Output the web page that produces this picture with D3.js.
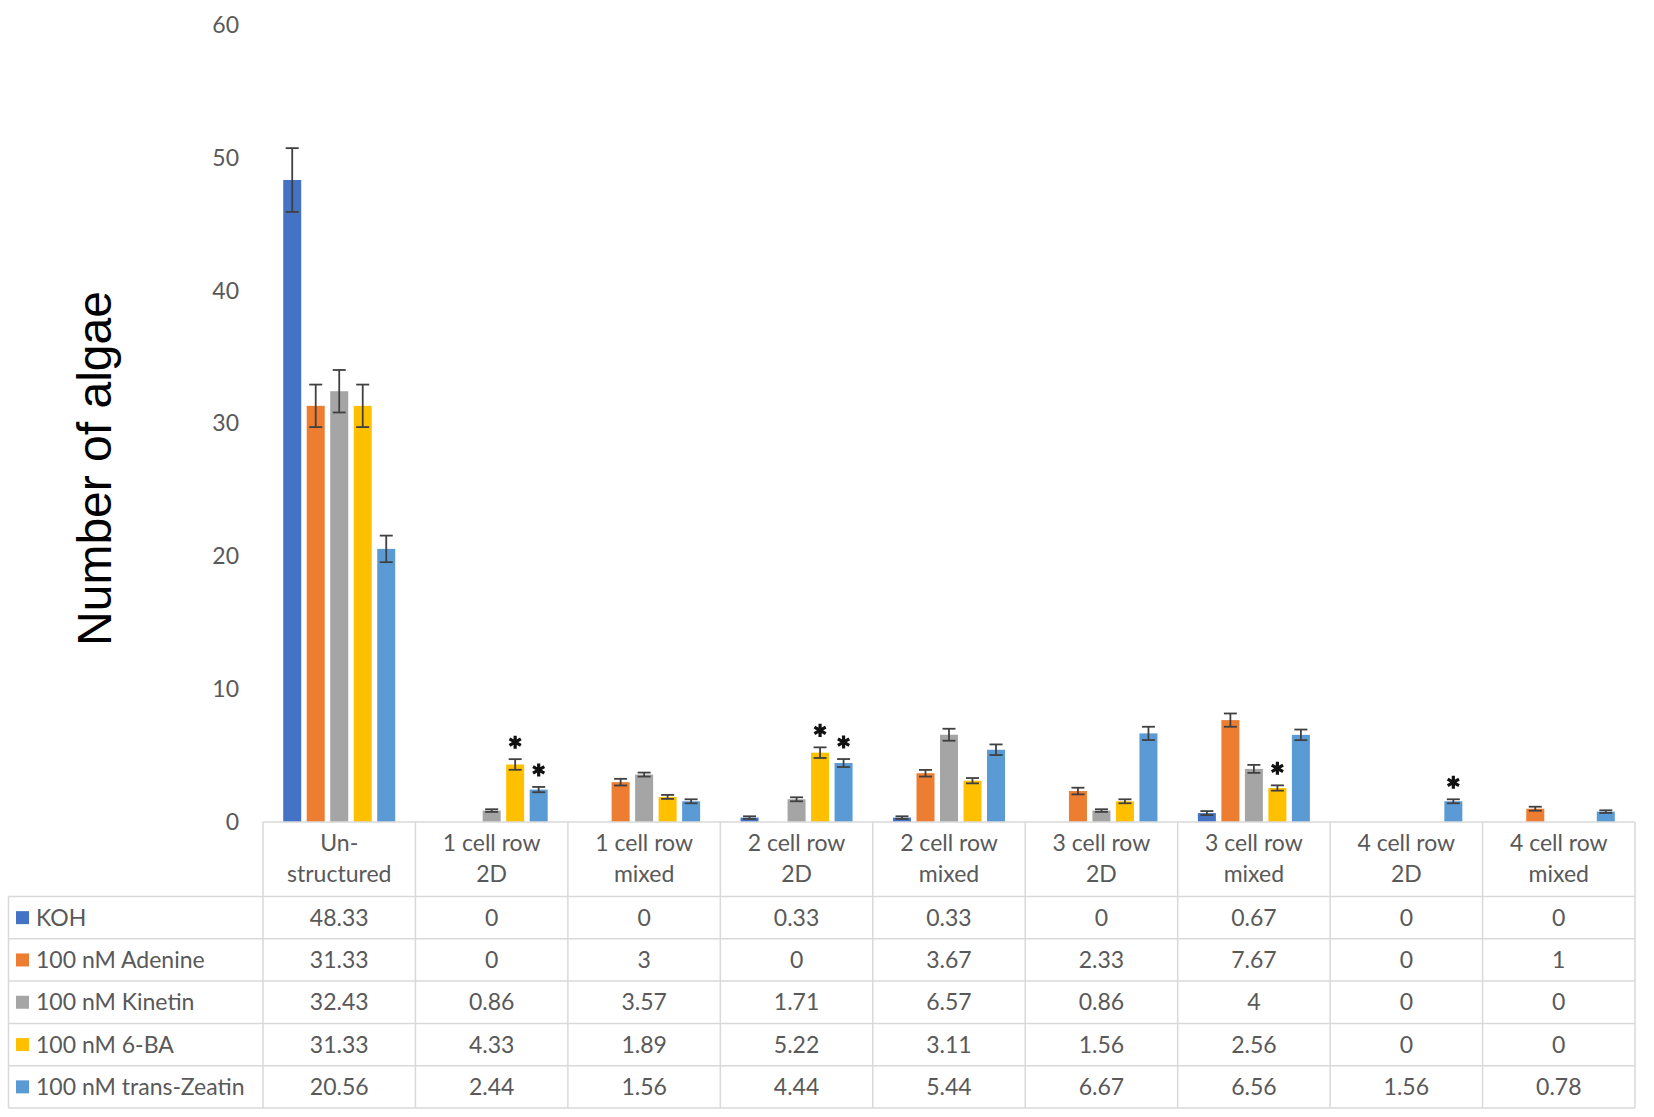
<!DOCTYPE html>
<html>
<head>
  <meta charset="utf-8">
  <style>
    body { margin: 0; background: #fff; }
    svg text { font-family: Lato, "Open Sans", sans-serif; }
    .grid { stroke: #d9d9d9; stroke-width: 1.5; fill: none; }
    .cell-text { fill: #595959; font-size: 23px; }
  </style>
</head>
<body>
  <script src="https://d3js.org/d3.v7.min.js"></script>
  <script>
    // data
    const categories = [
      ['Un-', 'structured'], ['1 cell row', '2D'], ['1 cell row', 'mixed'],
      ['2 cell row', '2D'], ['2 cell row', 'mixed'], ['3 cell row', '2D'],
      ['3 cell row', 'mixed'], ['4 cell row', '2D'], ['4 cell row', 'mixed']
    ];
    const seriesNames = ['KOH', '100 nM Adenine', '100 nM Kinetin', '100 nM 6-BA', '100 nM trans-Zeatin'];
    const seriesColors = ['#4472c4', '#ed7d31', '#a5a5a5', '#ffc000', '#5b9bd5'];

    const kohValues     = [48.33, 0, 0, 0.33, 0.33, 0, 0.67, 0, 0];
    const adenineValues = [31.33, 0, 3, 0, 3.67, 2.33, 7.67, 0, 1];
    const kinetinValues = [32.43, 0.86, 3.57, 1.71, 6.57, 0.86, 4, 0, 0];
    const baValues      = [31.33, 4.33, 1.89, 5.22, 3.11, 1.56, 2.56, 0, 0];
    const zeatinValues  = [20.56, 2.44, 1.56, 4.44, 5.44, 6.67, 6.56, 1.56, 0.78];

    // error bars (estimated)
    const kohErr     = [2.4, 0, 0, 0.1, 0.1, 0, 0.15, 0, 0];
    const adenineErr = [1.6, 0, 0.25, 0, 0.25, 0.25, 0.5, 0, 0.15];
    const kinetinErr = [1.6, 0.1, 0.15, 0.15, 0.45, 0.1, 0.3, 0, 0];
    const baErr      = [1.6, 0.4, 0.15, 0.4, 0.2, 0.15, 0.2, 0, 0];
    const zeatinErr  = [1.0, 0.2, 0.15, 0.3, 0.4, 0.5, 0.4, 0.15, 0.1];

    // significance stars: [category, series]
    const stars = [[1, 3], [1, 4], [3, 3], [3, 4], [6, 3], [7, 4]];

    const yTicks = [0, 10, 20, 30, 40, 50, 60];

    const values = [kohValues, adenineValues, kinetinValues, baValues, zeatinValues];
    const errors = [kohErr, adenineErr, kinetinErr, baErr, zeatinErr];

    const width = 1654, height = 1117;
    const plot = { left: 263, right: 1635, top: 25, bottom: 822 };
    const headerH = 74.5, rowH = 42.3, legendLeft = 8.5;

    const svg = d3.select('body').append('svg')
      .attr('width', width)
      .attr('height', height);

    const x0 = d3.scaleBand()
      .domain(d3.range(categories.length))
      .range([plot.left, plot.right]);

    const x1 = d3.scaleBand()
      .domain(d3.range(seriesNames.length))
      .range([0, x0.bandwidth()])
      .paddingInner(0.234)
      .paddingOuter(0.86);

    const y = d3.scaleLinear()
      .domain([0, 60])
      .range([plot.bottom, plot.top]);

    // y axis, labels only
    const yAxis = svg.append('g')
      .attr('transform', `translate(${plot.left},0)`)
      .call(d3.axisLeft(y).tickValues(yTicks).tickSize(0).tickPadding(24));
    yAxis.select('.domain').remove();
    yAxis.selectAll('text')
      .attr('fill', '#595959')
      .style('font-size', '23px')
      .style('font-family', 'Lato, sans-serif');

    svg.append('text')
      .attr('transform', `translate(111,${(287 + 650) / 2}) rotate(-90)`)
      .attr('text-anchor', 'middle')
      .style('font-family', '"Liberation Sans", Arial, sans-serif')
      .style('font-size', '48px')
      .attr('fill', '#000')
      .text('Number of algae');

    // bars
    const bars = [];
    values.forEach((vals, s) => vals.forEach((v, c) => bars.push({ c, s, v, e: errors[s][c] })));

    svg.append('g').selectAll('rect')
      .data(bars)
      .join('rect')
      .attr('x', d => x0(d.c) + x1(d.s))
      .attr('y', d => y(d.v))
      .attr('width', x1.bandwidth())
      .attr('height', d => y(0) - y(d.v))
      .attr('fill', d => seriesColors[d.s]);

    // error bars
    const eb = svg.append('g').attr('stroke', '#404040').attr('stroke-width', 1.8);
    bars.filter(d => d.v > 0).forEach(d => {
      const cx = x0(d.c) + x1(d.s) + x1.bandwidth() / 2;
      const top = y(d.v + d.e), bot = y(Math.max(0, d.v - d.e));
      eb.append('line').attr('x1', cx).attr('x2', cx).attr('y1', top).attr('y2', bot);
      eb.append('line').attr('x1', cx - 6.5).attr('x2', cx + 6.5).attr('y1', top).attr('y2', top);
      eb.append('line').attr('x1', cx - 6.5).attr('x2', cx + 6.5).attr('y1', bot).attr('y2', bot);
    });

    // stars
    const starType = d3.symbolAsterisk || d3.symbolCross;
    svg.append('g').selectAll('path')
      .data(stars)
      .join('path')
      .attr('transform', ([c, s]) => {
        const cx = x0(c) + x1(s) + x1.bandwidth() / 2;
        return `translate(${cx},${y(values[s][c] + errors[s][c]) - 17})`;
      })
      .attr('d', d3.symbol().type(starType).size(120))
      .attr('stroke', '#111')
      .attr('stroke-width', 3.2)
      .attr('fill', '#111');

    // data table
    const table = svg.append('g');
    const tableTop = plot.bottom;
    const rowsTop = tableTop + headerH;
    const tableBottom = rowsTop + rowH * seriesNames.length;

    // header row
    categories.forEach((lines, c) => {
      const cx = x0(c) + x0.bandwidth() / 2;
      lines.forEach((t, i) => {
        table.append('text')
          .attr('class', 'cell-text')
          .attr('x', cx)
          .attr('y', tableTop + 21 + i * 31)
          .attr('dy', '0.35em')
          .attr('text-anchor', 'middle')
          .text(t);
      });
    });

    // body rows
    seriesNames.forEach((name, s) => {
      const cy = rowsTop + rowH * s + rowH / 2;
      table.append('rect')
        .attr('x', 16).attr('y', cy - 6.5)
        .attr('width', 13).attr('height', 13)
        .attr('fill', seriesColors[s]);
      table.append('text')
        .attr('class', 'cell-text')
        .attr('x', 36)
        .attr('y', cy)
        .attr('dy', '0.35em')
        .text(name);
      values[s].forEach((v, c) => {
        table.append('text')
          .attr('class', 'cell-text')
          .attr('x', x0(c) + x0.bandwidth() / 2)
          .attr('y', cy)
          .attr('dy', '0.35em')
          .attr('text-anchor', 'middle')
          .text(String(v));
      });
    });

    // grid lines
    table.append('line').attr('class', 'grid')
      .attr('x1', plot.left).attr('x2', plot.right).attr('y1', tableTop).attr('y2', tableTop);
    d3.range(seriesNames.length + 1).forEach(i => {
      const yy = rowsTop + rowH * i;
      table.append('line').attr('class', 'grid')
        .attr('x1', legendLeft).attr('x2', plot.right).attr('y1', yy).attr('y2', yy);
    });
    d3.range(categories.length + 1).forEach(i => {
      const xx = plot.left + x0.step() * i;
      table.append('line').attr('class', 'grid')
        .attr('x1', xx).attr('x2', xx).attr('y1', tableTop).attr('y2', tableBottom);
    });
    table.append('line').attr('class', 'grid')
      .attr('x1', legendLeft).attr('x2', legendLeft).attr('y1', rowsTop).attr('y2', tableBottom);
  </script>
</body>
</html>
